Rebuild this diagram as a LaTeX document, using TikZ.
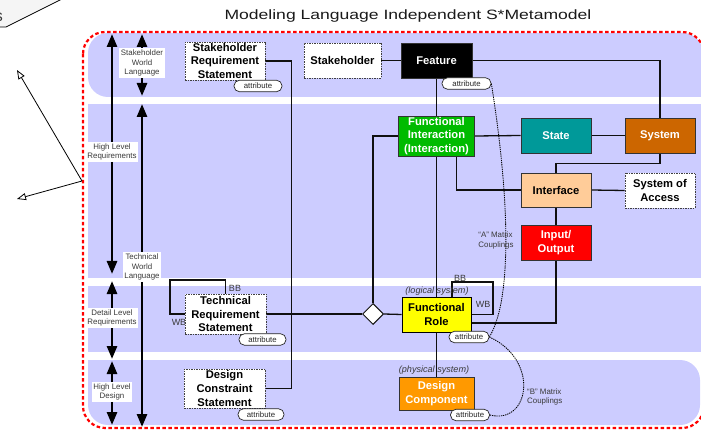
\documentclass[tikz,border=0pt]{standalone}
\usepackage{fontspec}
\usepackage{graphicx}
\setmainfont{Liberation Sans}
\usetikzlibrary{arrows.meta,shapes.geometric,calc}
\definecolor{bandc}{HTML}{CCCCFF}
\definecolor{fgreen}{HTML}{00BB00}
\definecolor{fteal}{HTML}{009999}
\definecolor{fbrown}{HTML}{CC6600}
\definecolor{fpeach}{HTML}{FFCC99}
\definecolor{fred}{HTML}{FF0000}
\definecolor{fyellow}{HTML}{FFFF00}
\definecolor{forange}{HTML}{FF9900}
\definecolor{txtgray}{HTML}{3A3A3A}
\definecolor{linec}{HTML}{101010}
\pgfdeclarelayer{bg}
\pgfdeclarelayer{lines}
\pgfsetlayers{bg,lines,main}
\begin{document}
\begin{tikzpicture}[x=1pt,y=-1pt,
  boxfont/.style={font=\fontsize{11.2}{13.6}\selectfont\bfseries},
  dbox/.style={boxfont, draw=black!75, dash pattern=on 1.5pt off 1pt, line width=0.8pt, fill=white, align=center, inner sep=0pt},
  cbox/.style={boxfont, draw=black!80, line width=0.8pt, align=center, inner sep=0pt, text=white},
  pill/.style={draw=black!85, line width=0.7pt, fill=white, rounded corners=5.5pt, font=\fontsize{7.8}{9}\selectfont, minimum height=11.5pt, inner sep=0pt, text=black!85},
  lbl/.style={fill=white, inner sep=1.5pt, font=\fontsize{7.9}{9.5}\selectfont, text=txtgray, align=center},
  note/.style={font=\fontsize{7.9}{9.5}\selectfont, text=txtgray, align=left, inner sep=0pt},
  bbwb/.style={font=\fontsize{9}{10}\selectfont, text=txtgray, inner sep=0pt},
  sysnote/.style={font=\fontsize{9.1}{10}\selectfont\itshape, text=txtgray, inner sep=0pt},
  conn/.style={draw=linec, line width=1.3pt},
  bigarrow/.style={draw=black, line width=2.7pt, {Triangle[length=13pt,width=10pt]}-{Triangle[length=13pt,width=10pt]}},
  dotc/.style={draw=black, line width=0.85pt, dash pattern=on 1.3pt off 0.9pt},
  openarrow/.style={draw=black, line width=0.8pt, -{Triangle[open,length=9pt,width=7pt]}},
]
\useasboundingbox (0,0) rectangle (701,430);

% ---------- background bands and frame ----------
\begin{pgfonlayer}{bg}
  \fill[bandc, rounded corners=20pt] (88,33) rectangle (703,97);
  \fill[bandc] (670,60) rectangle (703,97);
  \fill[bandc] (88,104) rectangle (703,278);
  \fill[bandc] (88,286) rectangle (703,352);
  \fill[bandc, rounded corners=20pt] (88,360) rectangle (700,425);
  \fill[bandc] (88,360) rectangle (120,390);
  \draw[red, line width=2.2pt, dash pattern=on 3.5pt off 2.5pt, rounded corners=22pt] (83,32) rectangle (704,428);
  % clipped callout at top left
  \fill[gray!8] (-2,-2) -- (63,-2) -- (6,27) -- (-2,27) -- cycle;
  \draw[line width=0.8pt] (-2,27) -- (6,27) -- (62,-1);
\end{pgfonlayer}
\node[anchor=base east, font=\fontsize{16}{16}\selectfont, text=txtgray, inner sep=0pt] (cut) at (3,22) {s};

% ---------- title ----------
\node[anchor=base, font=\fontsize{13.5}{15}\selectfont, text=black!90, inner sep=0pt] (title) at (408,20) {\scalebox{1.3}[1]{Modeling Language Independent S*Metamodel}};

% ---------- left arrows ----------
\coordinate (src) at (82,181);
\coordinate (up) at (17,70);
\coordinate (dn) at (17,199);
\begin{pgfonlayer}{lines}
  \draw[openarrow] (src) -- (up);
  \draw[openarrow] (src) -- (dn);
\end{pgfonlayer}

\coordinate (a1) at (112,34);  \coordinate (a2) at (112,274);
\coordinate (b1) at (142,34);  \coordinate (b2) at (142,96);
\coordinate (c1) at (142,104); \coordinate (c2) at (142,427);
\coordinate (d1) at (112,281); \coordinate (d2) at (112,359);
\coordinate (e1) at (112,361); \coordinate (e2) at (112,425);
\begin{pgfonlayer}{lines}
  \draw[bigarrow] (a1) -- (a2);
  \draw[bigarrow] (b1) -- (b2);
  \draw[bigarrow] (c1) -- (c2);
  \draw[bigarrow] (d1) -- (d2);
  \draw[bigarrow] (e1) -- (e2);
\end{pgfonlayer}
\node[lbl] (la) at (112,152) {High Level\\Requirements};
\node[lbl] (lb) at (142,63) {Stakeholder\\World\\Language};
\node[lbl] (lc) at (142,267) {Technical\\World\\Language};
\node[lbl] (ld) at (112,318) {Detail Level\\Requirements};
\node[lbl] (le) at (112,392) {High Level\\Design};

% ---------- BB / WB labels (behind boxes) ----------
\node[bbwb] (wb1) at (179,322) {WB};
\node[bbwb] (bb1) at (235,288) {BB};
\node[bbwb] (bb2) at (460,278) {BB};
\node[bbwb] (wb2) at (483,304) {WB};

% ---------- nodes ----------
\node[dbox, minimum width=80pt, minimum height=38pt] (srs) at (225,61) {Stakeholder\\Requirement\\Statement};
\node[pill, minimum width=48pt] (srsa) at (258,86) {attribute};
\node[dbox, minimum width=77pt, minimum height=35pt] (sh) at (342.5,60.5) {Stakeholder};
\node[cbox, fill=black, minimum width=71pt, minimum height=35pt] (feat) at (436.5,60.5) {Feature};
\node[pill, minimum width=49pt] (feata) at (466.5,83.5) {attribute};
\node[cbox, fill=fgreen, minimum width=76pt, minimum height=40pt] (fi) at (436.5,136) {Functional\\Interaction\\(Interaction)};
\node[cbox, fill=fteal, minimum width=70pt, minimum height=35pt] (state) at (556,135.5) {State};
\node[cbox, fill=fbrown, minimum width=70pt, minimum height=35pt] (sys) at (660,135.5) {System};
\node[cbox, fill=fpeach, text=black, minimum width=70pt, minimum height=34pt] (intf) at (556,190) {Interface};
\node[dbox, minimum width=70pt, minimum height=35pt] (soa) at (660,190.5) {System of\\Access};
\node[cbox, fill=fred, minimum width=70pt, minimum height=35pt] (io) at (556,242.5) {Input/\\Output};
\node[cbox, fill=fyellow, text=black, draw=black, minimum width=69pt, minimum height=35pt] (fr) at (436.5,314.5) {Functional\\Role};
\node[sysnote] (logi) at (437,291) {(logical system)};
\node[pill, minimum width=40pt] (fra) at (469,337) {attribute};
\node[cbox, fill=forange, minimum width=75pt, minimum height=33pt] (dc) at (436.5,393.5) {Design\\Component};
\node[sysnote] (phys) at (434,370) {(physical system)};
\node[pill, minimum width=39pt] (dca) at (470,415) {attribute};
\node[dbox, minimum width=81pt, minimum height=40pt] (trs) at (225.5,314) {Technical\\Requirement\\Statement};
\node[pill, minimum width=47pt] (trsa) at (262.5,339.5) {attribute};
\node[dbox, minimum width=81pt, minimum height=39pt] (dcs) at (224.5,388.5) {Design\\Constraint\\Statement};
\node[pill, minimum width=46pt] (dcsa) at (261,414.5) {attribute};
\node[diamond, draw=linec, line width=1pt, fill=white, minimum width=21pt, minimum height=21pt, inner sep=0pt] (dia) at (373,314) {};

\node[note] (anote) at (496,240.5) {“A” Matrix\\Couplings};
\node[note, anchor=west] (bnote) at (527,397) {“B” Matrix\\Couplings};

% ---------- connectors ----------
\begin{pgfonlayer}{lines}
  \draw[conn] (srs.east) -- ++(26,0) |- (dcs.east);
  \draw[conn] (trs.west) -| (170,280) -| (trs.north);
  \draw[conn] (trs.east) -- (dia.west);
  \draw[conn] (dia.east) -- (fr.west);
  \draw[conn] (fi.west) -| (dia.north);
  \draw[conn] (sh.east) -- (feat.west);
  \draw[conn] (feat.east) -| (sys.north);
  \draw[conn] (feat.south) -- (fi.north);
  \draw[conn] (fi.east) -- (state.west);
  \draw[conn] (state.east) -- (sys.west);
  \draw[conn] (sys.south) -- ++(0,10) -| (intf.north);
  \draw[conn] ([xshift=20pt]fi.south) |- (intf.west);
  \draw[conn] (intf.east) -- (soa.west);
  \draw[conn] (intf.south) -- (io.north);
  \draw[conn] (io.south) |- ([yshift=-8.5pt]fr.east);
  \draw[conn] (fi.south) -- (fr.north);
  \draw[conn] (fr.south) -- (dc.north);
  \draw[conn] ([xshift=15.5pt]fr.north) |- (493,282) |- (fr.east);
  \draw[dotc] (feata.east) .. controls (510,200) and (512,300) .. (fra.east);
  \draw[dotc] (fra.east) .. controls (540,360) and (530,425) .. (dca.east);
\end{pgfonlayer}
\end{tikzpicture}
\end{document}
